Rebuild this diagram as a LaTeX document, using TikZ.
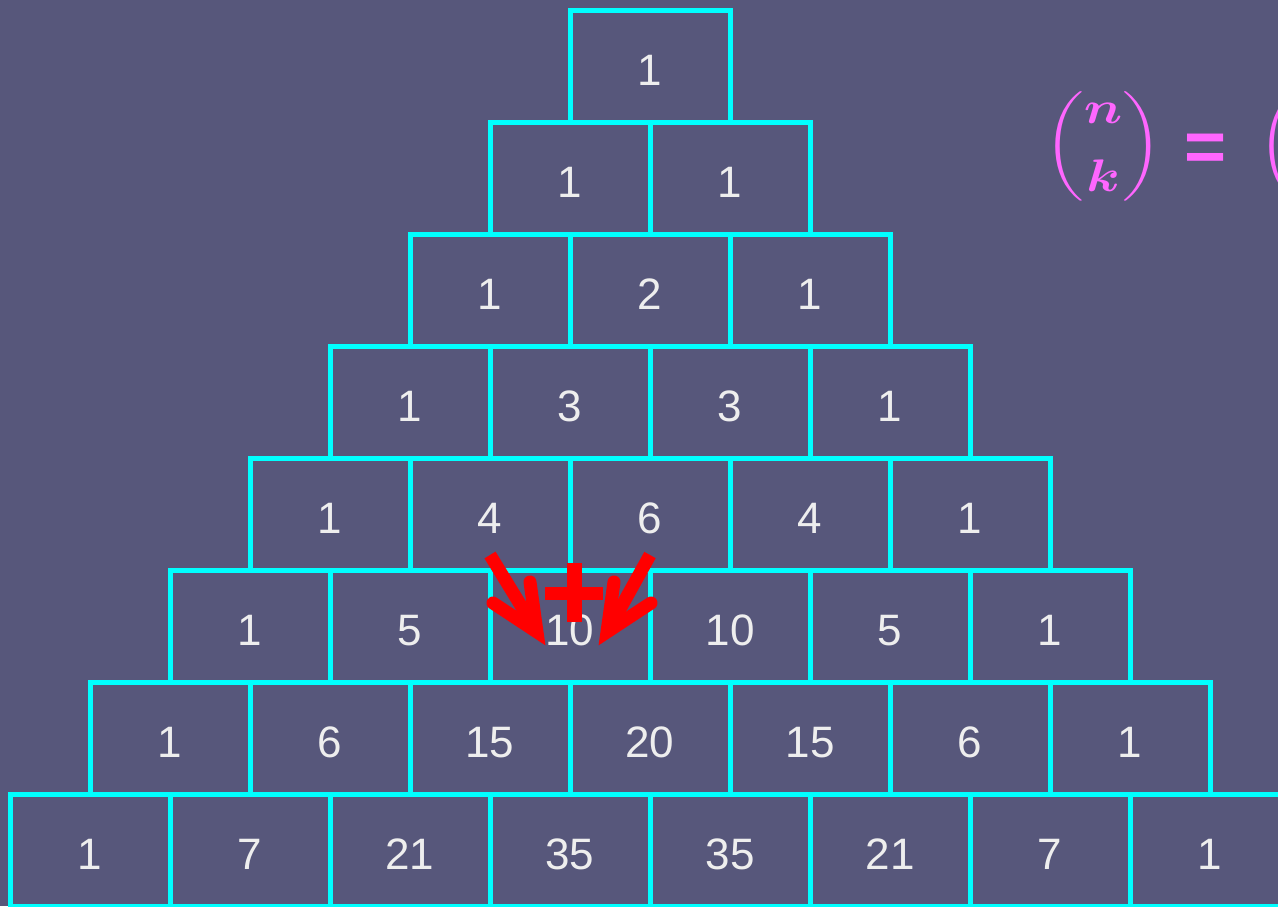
\documentclass[tikz,border=0pt]{standalone}
\usepackage{amsmath}
\usepackage{fontspec}
\setmainfont{Liberation Sans}
\definecolor{bg}{RGB}{87,87,123}
\definecolor{cyanline}{RGB}{0,255,255}
\definecolor{numtext}{RGB}{238,238,238}
\definecolor{formula}{RGB}{255,102,255}
\definecolor{arrowred}{RGB}{255,0,0}
\begin{document}
\begin{tikzpicture}[x=1pt,y=-1pt,
  cell/.style={draw=cyanline, line width=5pt, minimum width=160pt, minimum height=112pt,
    inner sep=0pt, text=numtext, text height=38pt, text depth=0pt, font=\fontsize{44}{52}\selectfont},
  redstroke/.style={draw=arrowred, line width=13pt},
  formulatext/.style={inner sep=0pt, text=formula, font=\fontsize{20}{24}\selectfont\boldmath}]
\useasboundingbox (0,0) rectangle (1278,906);
\clip (0,0) rectangle (1278,906);
\fill[bg] (0,0) rectangle (1278,906);
\foreach \row [count=\r from 0] in {{1},{1,1},{1,2,1},{1,3,3,1},{1,4,6,4,1},{1,5,10,10,5,1},{1,6,15,20,15,6,1},{1,7,21,35,35,21,7,1}}{
  \foreach \v [count=\k from 0] in \row {
    \node[cell] (c-\r-\k) at ({650-80*\r+160*\k}, {66+112*\r}) {\v};
  }
}
% red arrows and plus
\coordinate (la) at (490,555);
\coordinate (lt) at (537,632);
\coordinate (ra) at (650,555);
\coordinate (rt) at (607,632);
\draw[redstroke] (la) -- (534,627);
\draw[redstroke, line cap=round, line join=miter] (530,582) -- (lt) -- (493,603);
\draw[redstroke] (ra) -- (610,627);
\draw[redstroke, line cap=round, line join=miter] (614,582) -- (rt) -- (651,603);
\fill[arrowred] (545,587) rectangle (603,600);
\fill[arrowred] (567,563) rectangle (582,622);
% formula
\node[formulatext, anchor=west] (fb) at (1044,146) {\scalebox{2.6}[2.2]{$\displaystyle\binom{n}{k}$}};
\node[formulatext, font=\fontsize{72}{80}\selectfont\bfseries] (feq) at (1206,153) {=};
\node[formulatext, anchor=west] (fp) at (1258,146) {\scalebox{2.6}[2.2]{$\displaystyle\left(\vphantom{\binom{n}{k}}\right.$}};
\end{tikzpicture}
\end{document}
